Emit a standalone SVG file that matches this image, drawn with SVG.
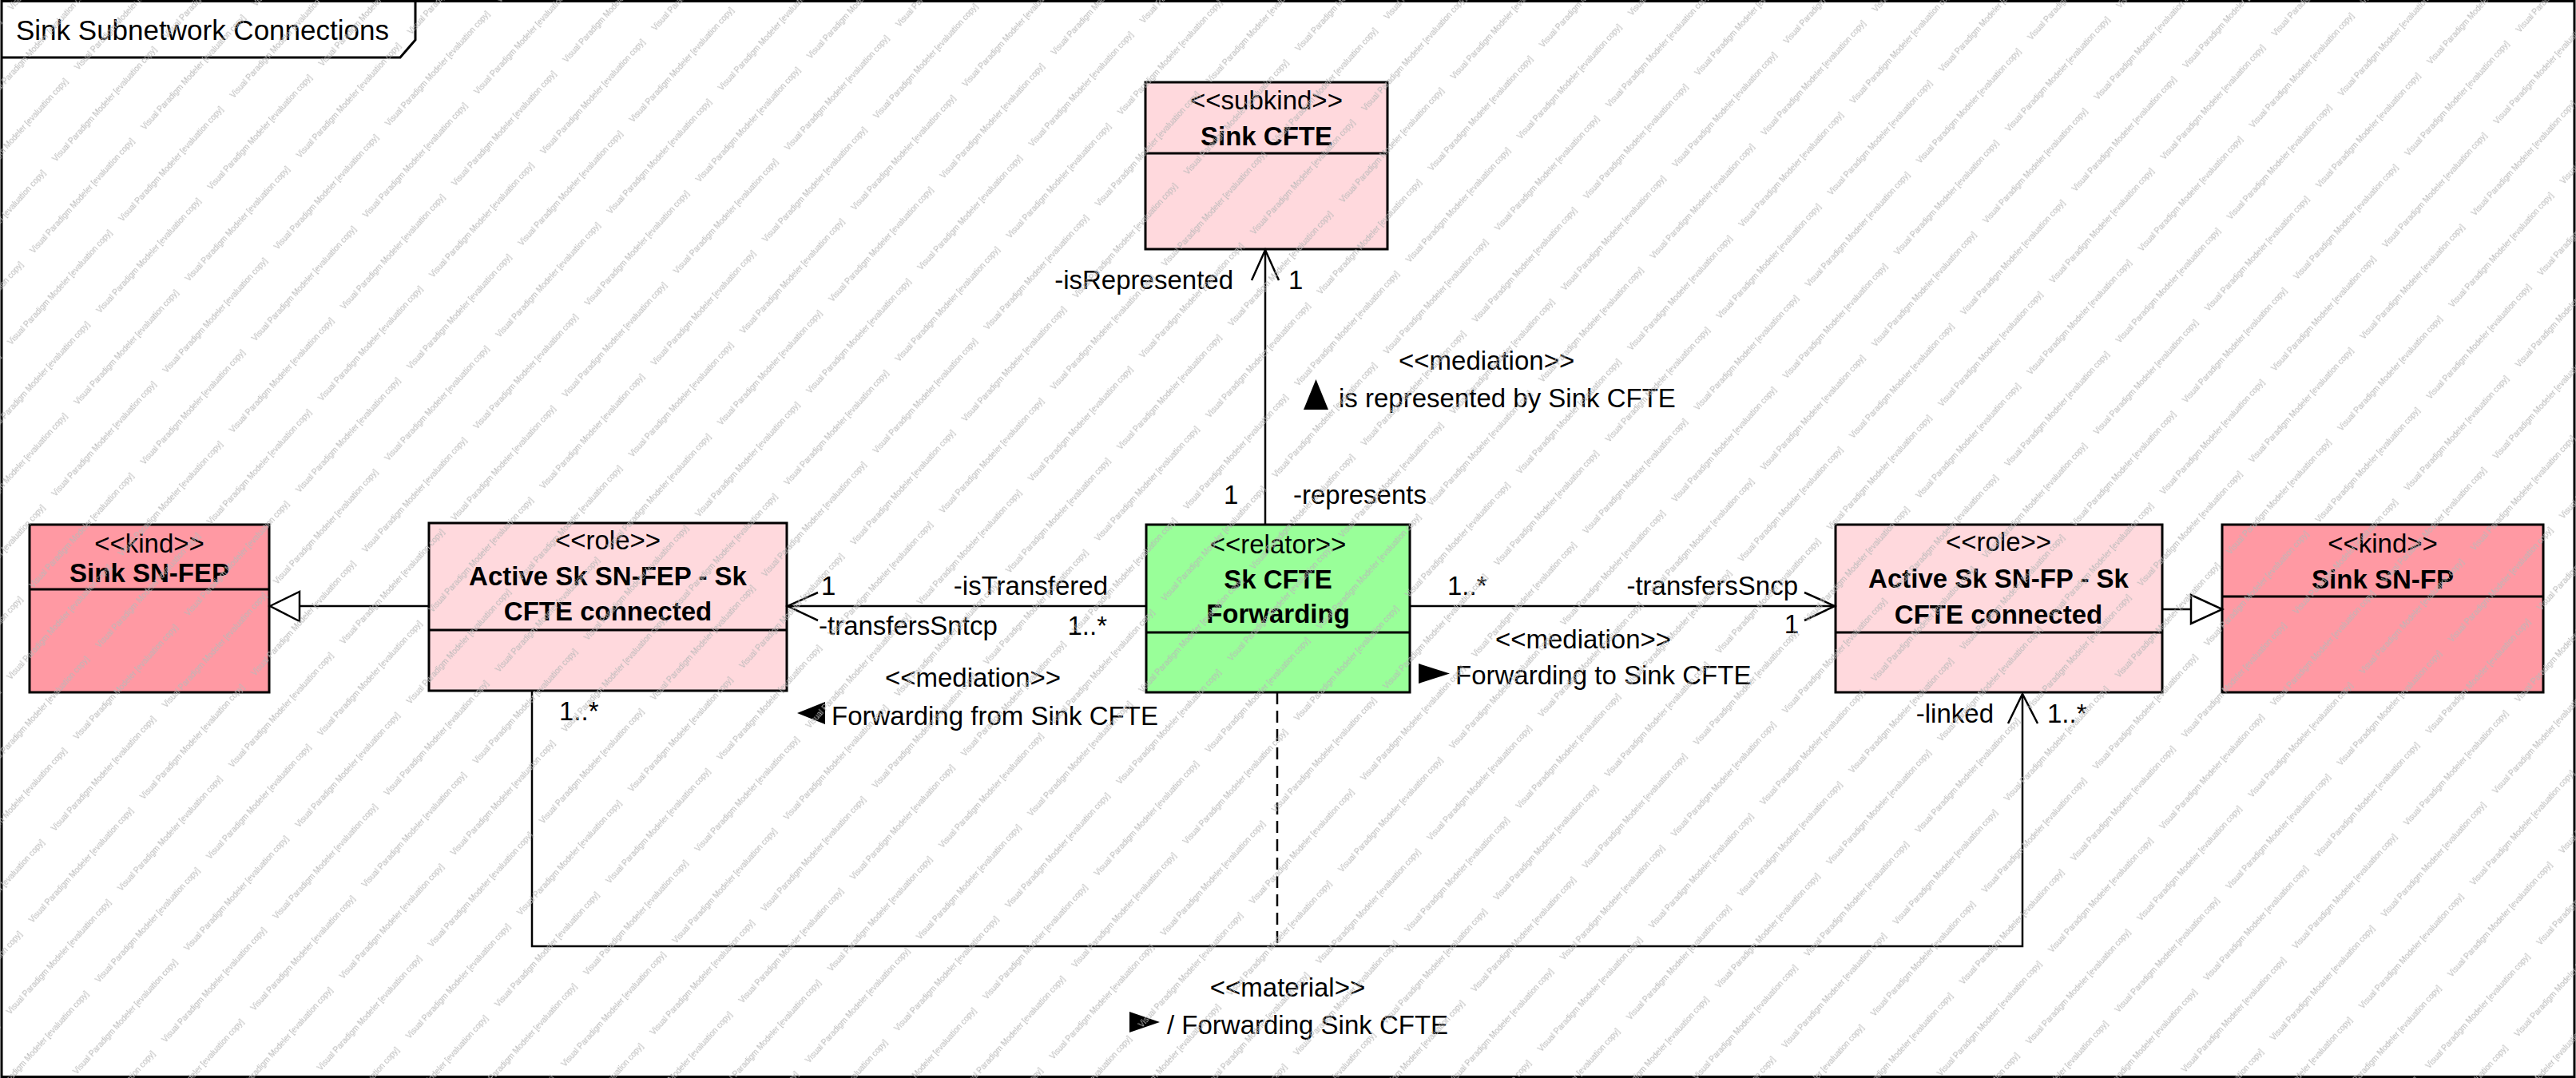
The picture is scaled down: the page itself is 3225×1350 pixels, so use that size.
<svg xmlns="http://www.w3.org/2000/svg" width="3225" height="1350" viewBox="0 0 3225 1350">
<style>
text{font-family:"Liberation Sans",Arial,sans-serif;font-size:33px;fill:#000}
.b{font-weight:bold}
.m{text-anchor:middle}
.e{text-anchor:end}
.box{stroke:#000;stroke-width:3}
.sep{stroke:#000;stroke-width:3}
.kind{fill:#FF99A3}
.role{fill:#FFD9DD}
.rel{fill:#99FF99}
.ln{fill:none;stroke:#000;stroke-width:2.5}
.hd{fill:#fff;stroke:#000;stroke-width:2.5}
.tri{fill:#000}
.wm{font-size:10px;fill:#b8b8b8}
</style>
<defs>
<pattern id="wmp" patternUnits="userSpaceOnUse" width="208" height="112" patternTransform="rotate(-48)">
<text class="wm" x="0" y="20">Visual Paradigm Modeler [evaluation copy]</text>
<text class="wm" x="104" y="76">Visual Paradigm Modeler [evaluation copy]</text>
<text class="wm" x="-104" y="76">Visual Paradigm Modeler [evaluation copy]</text>
</pattern>
</defs>
<rect x="0" y="0" width="3225" height="1350" fill="#fff"/>
<g id="frame">
<rect x="2" y="1.5" width="3221" height="1347" fill="none" stroke="#000" stroke-width="3"/>
<path d="M2,72 H501 L520,50 V1.5" fill="none" stroke="#000" stroke-width="3"/>
<text x="20" y="50" style="font-size:35px">Sink Subnetwork Connections</text>
</g>
<g id="sink-cfte">
<rect class="box role" x="1434" y="103" width="303" height="209"/>
<line class="sep" x1="1434" y1="192" x2="1737" y2="192"/>
<text class="m" x="1585.5" y="137">&lt;&lt;subkind&gt;&gt;</text>
<text class="m b" x="1585.5" y="182">Sink CFTE</text>
</g>
<g id="sink-sn-fep">
<rect class="box kind" x="37" y="657" width="300" height="210"/>
<line class="sep" x1="37" y1="738" x2="337" y2="738"/>
<text class="m" x="187" y="692">&lt;&lt;kind&gt;&gt;</text>
<text class="m b" x="187" y="729">Sink SN-FEP</text>
</g>
<g id="active-sk-sn-fep">
<rect class="box role" x="537" y="655" width="448" height="210"/>
<line class="sep" x1="537" y1="789" x2="985" y2="789"/>
<text class="m" x="761" y="688">&lt;&lt;role&gt;&gt;</text>
<text class="m b" x="761" y="733">Active Sk SN-FEP - Sk</text>
<text class="m b" x="761" y="777">CFTE connected</text>
</g>
<g id="sk-cfte-forwarding">
<rect class="box rel" x="1435" y="657" width="330" height="210"/>
<line class="sep" x1="1435" y1="792" x2="1765" y2="792"/>
<text class="m" x="1600" y="693">&lt;&lt;relator&gt;&gt;</text>
<text class="m b" x="1600" y="737">Sk CFTE</text>
<text class="m b" x="1600" y="780">Forwarding</text>
</g>
<g id="active-sk-sn-fp">
<rect class="box role" x="2298" y="657" width="409" height="210"/>
<line class="sep" x1="2298" y1="792" x2="2707" y2="792"/>
<text class="m" x="2502" y="690">&lt;&lt;role&gt;&gt;</text>
<text class="m b" x="2502" y="736">Active Sk SN-FP - Sk</text>
<text class="m b" x="2502" y="781">CFTE connected</text>
</g>
<g id="sink-sn-fp">
<rect class="box kind" x="2782" y="657" width="402" height="210"/>
<line class="sep" x1="2782" y1="747" x2="3184" y2="747"/>
<text class="m" x="2983" y="692">&lt;&lt;kind&gt;&gt;</text>
<text class="m b" x="2983" y="737">Sink SN-FP</text>
</g>
<g id="connectors">
<line class="ln" x1="537" y1="759" x2="375" y2="759"/>
<polygon class="hd" points="338,759 375,741 375,778"/>
<line class="ln" x1="2707" y1="763" x2="2743" y2="763"/>
<polygon class="hd" points="2782,763 2743,745 2743,781"/>
<line class="ln" x1="1435" y1="759" x2="986" y2="759"/>
<polyline class="ln" points="1024,742 986,759 1024,777"/>
<text x="1028" y="745">1</text>
<text class="e" x="1387" y="745">-isTransfered</text>
<text x="1025" y="795">-transfersSntcp</text>
<text class="e" x="1386" y="795">1..*</text>
<text class="m" x="1218" y="860">&lt;&lt;mediation&gt;&gt;</text>
<polygon class="tri" points="998,893 1033,879 1033,907"/>
<text x="1041" y="908">Forwarding from Sink CFTE</text>
<line class="ln" x1="1765" y1="759" x2="2297" y2="759"/>
<polyline class="ln" points="2259,742 2297,759 2259,777"/>
<text x="1812" y="745">1..*</text>
<text class="e" x="2251" y="745">-transfersSncp</text>
<text class="e" x="2252" y="793">1</text>
<text class="m" x="1982" y="812">&lt;&lt;mediation&gt;&gt;</text>
<polygon class="tri" points="1776,831 1815,843.5 1776,856"/>
<text x="1822" y="857">Forwarding to Sink CFTE</text>
<line class="ln" x1="1584" y1="657" x2="1584" y2="313"/>
<polyline class="ln" points="1567,351 1584,313 1601,351"/>
<text class="e" x="1544" y="362">-isRepresented</text>
<text x="1613" y="362">1</text>
<text x="1751" y="463">&lt;&lt;mediation&gt;&gt;</text>
<polygon class="tri" points="1632,513 1647.5,475 1663,513"/>
<text x="1676" y="510">is represented by Sink CFTE</text>
<text x="1532" y="631">1</text>
<text x="1619" y="631">-represents</text>
<polyline class="ln" points="666,865 666,1185 2532,1185 2532,869"/>
<polyline class="ln" points="2514,906 2532,869 2551,906"/>
<text x="700" y="902">1..*</text>
<text class="e" x="2496" y="905">-linked</text>
<text x="2563" y="905">1..*</text>
<line class="ln" x1="1599" y1="867" x2="1599" y2="1185" stroke-dasharray="15,8"/>
<text class="m" x="1612" y="1248">&lt;&lt;material&gt;&gt;</text>
<polygon class="tri" points="1414,1267 1452,1280 1414,1293"/>
<text x="1461" y="1295">/ Forwarding Sink CFTE</text>
</g>
<rect id="watermark" x="0" y="0" width="3225" height="1350" fill="url(#wmp)" pointer-events="none"/>
</svg>
